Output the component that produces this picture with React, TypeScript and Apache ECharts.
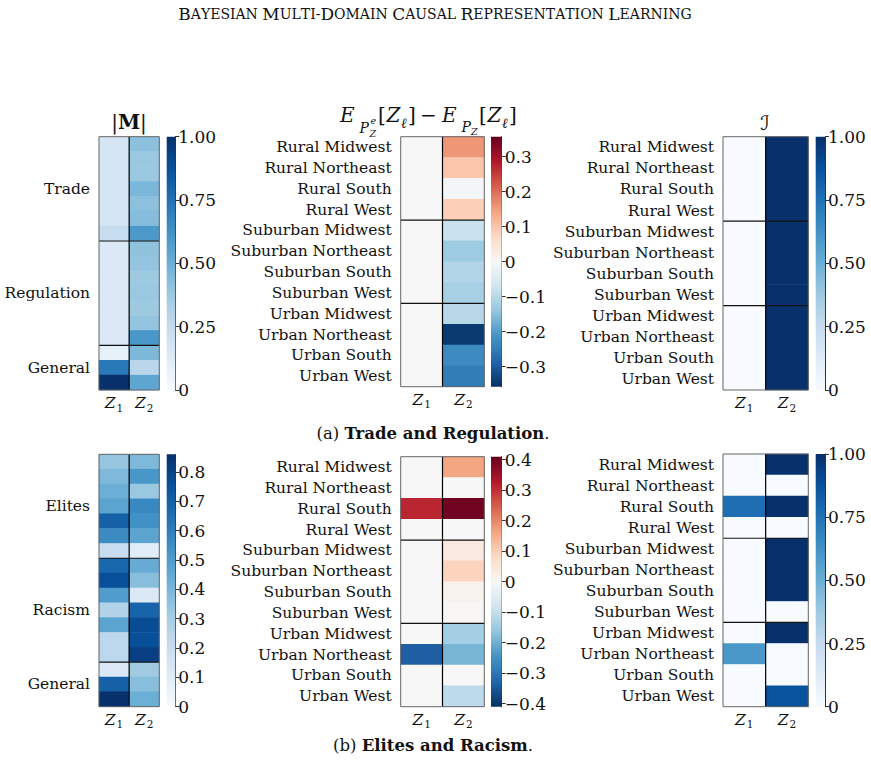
import React, { useEffect, useRef } from 'react';
import * as echarts from 'echarts';

const FONT = 'DejaVu Serif';

// ---------- categories ----------
const zCats = ['Z1', 'Z2'];
const regions = [
  'Rural Midwest', 'Rural Northeast', 'Rural South', 'Rural West',
  'Suburban Midwest', 'Suburban Northeast', 'Suburban South', 'Suburban West',
  'Urban Midwest', 'Urban Northeast', 'Urban South', 'Urban West',
];
const regionBreaks = [4, 8];
const groupsA = ['Trade', 'Regulation', 'General'];
const groupsB = ['Elites', 'Racism', 'General'];
const groupSizes = [7, 7, 3];

// ---------- (a) Trade and Regulation ----------
const mA_Z1 = [0.17, 0.17, 0.17, 0.17, 0.17, 0.17, 0.24, 0.14, 0.14, 0.14, 0.14, 0.14, 0.14, 0.14, 0.08, 0.72, 1.0];
const mA_Z2 = [0.42, 0.385, 0.385, 0.46, 0.42, 0.435, 0.59, 0.41, 0.40, 0.375, 0.385, 0.375, 0.40, 0.60, 0.455, 0.29, 0.54];
const dA_Z1 = [0, 0, 0, 0, 0, 0, 0, 0, 0, 0, 0, 0];
const dA_Z2 = [0.157, 0.10, -0.007, 0.087, -0.079, -0.13, -0.106, -0.118, -0.10, -0.343, -0.228, -0.25];
const iA_Z1 = [0, 0, 0, 0, 0, 0, 0, 0, 0, 0, 0, 0];
const iA_Z2 = [1, 1, 1, 1, 1, 1, 1, 1, 1, 1, 1, 1];

// ---------- (b) Elites and Racism ----------
const mB_Z1 = [0.34, 0.39, 0.43, 0.47, 0.70, 0.56, 0.21, 0.68, 0.76, 0.50, 0.27, 0.47, 0.24, 0.24, 0.12, 0.70, 0.86];
const mB_Z2 = [0.39, 0.52, 0.33, 0.57, 0.54, 0.47, 0.10, 0.44, 0.37, 0.12, 0.69, 0.77, 0.76, 0.81, 0.32, 0.37, 0.43];
const dB_Z1 = [0, 0, 0.313, 0, 0, 0, 0, 0, 0, -0.339, 0, 0];
const dB_Z2 = [0.164, 0, 0.40, 0, 0.04, 0.093, 0.015, 0.003, -0.14, -0.19, 0, -0.109];
const iB_Z1 = [0, 0, 0.76, 0, 0, 0, 0, 0, 0, 0.6, 0, 0];
const iB_Z2 = [1, 0, 1, 0, 1, 1, 1, 0, 1, 0, 0, 0.87];

// ---------- colour bar ticks ----------
const mTicksA = [0, 0.25, 0.5, 0.75, 1.0];
const mTicksB = [0, 0.1, 0.2, 0.3, 0.4, 0.5, 0.6, 0.7, 0.8];
const dTicksA = [-0.3, -0.2, -0.1, 0, 0.1, 0.2, 0.3];
const dTicksB = [-0.4, -0.3, -0.2, -0.1, 0, 0.1, 0.2, 0.3, 0.4];
const iTicks = [0, 0.25, 0.5, 0.75, 1.0];

// ---------- colormaps ----------
const BLUES = ['#f7fbff', '#deebf7', '#c6dbef', '#9ecae1', '#6baed6', '#4292c6', '#2171b5', '#08519c', '#08306b'];
const RDBU_R = ['#053061', '#2166ac', '#4393c3', '#92c5de', '#d1e5f0', '#f7f7f7', '#fddbc7', '#f4a582', '#d6604d', '#b2182b', '#67001f'];

const fmt2 = (v: number) => (Math.abs(v) < 1e-9 ? '0' : v.toFixed(2));
const fmt1 = (v: number) => (Math.abs(v) < 1e-9 ? '0' : v.toFixed(1));
const fmtSigned = (v: number) => (Math.abs(v) < 1e-9 ? '0' : (v < 0 ? '\u2212' : '') + Math.abs(v).toFixed(1));

function groupRows(groups: string[], sizes: number[]) {
  const rows: string[] = [];
  const labels: string[] = [];
  groups.forEach((g, gi) => {
    for (let k = 0; k < sizes[gi]; k++) {
      rows.push(g + '#' + k);
      labels.push(k === Math.floor(sizes[gi] / 2) ? g : '');
    }
  });
  const breaks: number[] = [];
  let acc = 0;
  sizes.slice(0, -1).forEach((s) => { acc += s; breaks.push(acc); });
  return { rows, labels, breaks };
}

type Panel = {
  rows: string[]; labels: string[]; z1: number[]; z2: number[];
  min: number; max: number; colors: string[]; breaks: number[];
  ticks: number[]; fmt: (v: number) => string;
  box: [number, number, number, number]; cb: [number, number];
};

function buildOption() {
  const gA = groupRows(groupsA, groupSizes);
  const gB = groupRows(groupsB, groupSizes);
  const panels: Panel[] = [
    { rows: gA.rows, labels: gA.labels, z1: mA_Z1, z2: mA_Z2, min: 0, max: 1, colors: BLUES, breaks: gA.breaks, ticks: mTicksA, fmt: fmt2, box: [99, 136.7, 60.3, 253.3], cb: [166.7, 8.6] },
    { rows: regions, labels: regions, z1: dA_Z1, z2: dA_Z2, min: -0.357, max: 0.357, colors: RDBU_R, breaks: regionBreaks, ticks: dTicksA, fmt: fmtSigned, box: [400.7, 136.7, 83.6, 250], cb: [491, 10.7] },
    { rows: regions, labels: regions, z1: iA_Z1, z2: iA_Z2, min: 0, max: 1, colors: BLUES, breaks: regionBreaks, ticks: iTicks, fmt: fmt2, box: [723, 136.7, 85.3, 253.3], cb: [815.7, 9.3] },
    { rows: gB.rows, labels: gB.labels, z1: mB_Z1, z2: mB_Z2, min: 0, max: 0.86, colors: BLUES, breaks: gB.breaks, ticks: mTicksB, fmt: fmt1, box: [99, 454.3, 60.3, 252.4], cb: [166.7, 8.6] },
    { rows: regions, labels: regions, z1: dB_Z1, z2: dB_Z2, min: -0.41, max: 0.41, colors: RDBU_R, breaks: regionBreaks, ticks: dTicksB, fmt: fmtSigned, box: [400.7, 456.7, 83.6, 250], cb: [491, 10.7] },
    { rows: regions, labels: regions, z1: iB_Z1, z2: iB_Z2, min: 0, max: 1, colors: BLUES, breaks: regionBreaks, ticks: iTicks, fmt: fmt2, box: [723, 454, 85.3, 252.7], cb: [815.7, 9.3] },
  ];

  const grid: any[] = [];
  const xAxis: any[] = [];
  const yAxis: any[] = [];
  const series: any[] = [];
  const visualMap: any[] = [];

  panels.forEach((p) => {
    const gi = grid.length;
    grid.push({ left: p.box[0], top: p.box[1], width: p.box[2], height: p.box[3], containLabel: false, outerBoundsMode: 'none' });
    xAxis.push({
      type: 'category', gridIndex: gi, data: zCats,
      axisLine: { show: false }, axisTick: { show: false }, splitLine: { show: false },
      axisLabel: {
        interval: 0, hideOverlap: false,
        margin: 3,
        formatter: (v: string) => `{z|Z}{s|${v.slice(1)}}`,
        rich: {
          z: { fontFamily: FONT, fontStyle: 'italic', fontSize: 15.5, color: '#111' },
          s: { fontFamily: FONT, fontSize: 10.5, color: '#111', padding: [9, 0, 0, 1] },
        },
      },
    });
    yAxis.push({
      type: 'category', gridIndex: gi, data: p.rows, inverse: true,
      axisLine: { show: false }, axisTick: { show: false }, splitLine: { show: false },
      axisLabel: { interval: 0, margin: 9, fontFamily: FONT, fontSize: 15.5, color: '#111', formatter: (_v: string, i: number) => p.labels[i] },
    });
    const data: number[][] = [];
    p.rows.forEach((_r, i) => { data.push([0, i, p.z1[i]]); data.push([1, i, p.z2[i]]); });
    const si = series.length;
    series.push({ type: 'heatmap', xAxisIndex: gi, yAxisIndex: gi, data, silent: true, itemStyle: { borderWidth: 0 }, emphasis: { disabled: true }, progressive: 0 });
    visualMap.push({ type: 'continuous', show: false, seriesIndex: si, dimension: 2, min: p.min, max: p.max, inRange: { color: p.colors } });
    // frame + separators
    series.push({
      type: 'custom', xAxisIndex: gi, yAxisIndex: gi, z: 5, silent: true, data: [[0, 0]],
      renderItem: (params: any, api: any) => {
        const cs = params.coordSys;
        const band = api.size([1, 1]);
        const children: any[] = [];
        p.breaks.forEach((b) => {
          const y = api.coord([0, b])[1] - band[1] / 2;
          children.push({ type: 'line', shape: { x1: cs.x, y1: y, x2: cs.x + cs.width, y2: y }, style: { stroke: '#111', lineWidth: 1.2 } });
        });
        const xd = api.coord([1, 0])[0] - band[0] / 2;
        children.push({ type: 'line', shape: { x1: xd, y1: cs.y, x2: xd, y2: cs.y + cs.height }, style: { stroke: '#000', lineWidth: 1.2 } });
        children.push({ type: 'rect', shape: { x: cs.x, y: cs.y, width: cs.width, height: cs.height }, style: { fill: 'none', stroke: '#666', lineWidth: 1 } });
        return { type: 'group', children };
      },
    });
    // colour bar
    const ci = grid.length;
    grid.push({ left: p.cb[0], top: p.box[1], width: p.cb[1], height: p.box[3], containLabel: false, outerBoundsMode: 'none' });
    xAxis.push({ type: 'value', gridIndex: ci, min: 0, max: 1, show: false });
    yAxis.push({
      type: 'value', gridIndex: ci, min: p.min, max: p.max, position: 'right',
      axisLine: { show: true, onZero: false, lineStyle: { color: '#333', width: 1 } },
      axisTick: { show: true, length: 4, customValues: p.ticks, lineStyle: { color: '#333', width: 1 } },
      axisLabel: { customValues: p.ticks, formatter: p.fmt, fontFamily: FONT, fontSize: 17, color: '#111', margin: 3 },
      splitLine: { show: false },
    });
    const stops = p.colors.map((c, i) => ({ offset: i / (p.colors.length - 1), color: c }));
    series.push({
      type: 'custom', xAxisIndex: ci, yAxisIndex: ci, silent: true, data: [[0, p.min]],
      renderItem: (_params: any, api: any) => {
        const a = api.coord([0, p.max]);
        const b = api.coord([1, p.min]);
        return { type: 'rect', shape: { x: a[0], y: a[1], width: b[0] - a[0], height: b[1] - a[1] }, style: { fill: new echarts.graphic.LinearGradient(0, 1, 0, 0, stops) } };
      },
    });
  });

  const t = (text: string, x: number, y: number, size: number, o: any = {}) => ({
    type: 'text', x, y, silent: true,
    style: {
      text, fontFamily: o.family || FONT, fontSize: size, fill: '#111',
      align: o.align || 'left', verticalAlign: 'middle',
      fontStyle: o.italic ? 'italic' : 'normal', fontWeight: o.bold ? 'bold' : 'normal',
      rich: o.rich,
    },
  });

  const smallCaps = (s: string) => {
    let out = '';
    for (const ch of s) {
      if (ch >= 'A' && ch <= 'Z') out += `{c|${ch}}`;
      else out += `{s|${ch.toUpperCase()}}`;
    }
    return out;
  };

  const graphic: any[] = [
    t(smallCaps('Bayesian Multi-Domain Causal Representation Learning'), 435, 14, 17, {
      align: 'center',
      rich: { c: { fontFamily: FONT, fontSize: 17, color: '#111' }, s: { fontFamily: FONT, fontSize: 14, color: '#111' } },
    }),
    // |M|
    t('{n||}{b|M}{n||}', 129, 122, 20, {
      align: 'center',
      rich: { n: { fontFamily: FONT, fontSize: 20, color: '#111' }, b: { fontFamily: FONT, fontSize: 20, fontWeight: 'bold', color: '#111' } },
    }),
    // script I
    t('\u2110', 765, 123, 20, { align: 'center', family: 'DejaVu Sans' }),
    // E_{P_Z^e}[Z_l] - E_{P_Z}[Z_l]
    t('E', 340, 115, 20, { italic: true }),
    t('P', 359.5, 127.5, 14, { italic: true }),
    t('e', 370.5, 120, 9.5, { italic: true }),
    t('Z', 369.5, 133, 9.5, { italic: true }),
    t('[', 378, 115, 20),
    t('Z', 386.5, 115, 20, { italic: true }),
    t('\u2113', 401, 123, 14, { italic: true }),
    t(']', 408, 115, 20),
    t('\u2212', 420, 115, 20),
    t('E', 442, 115, 20, { italic: true }),
    t('P', 461.5, 126.5, 14, { italic: true }),
    t('Z', 471, 131.5, 9.5, { italic: true }),
    t('[', 479, 115, 20),
    t('Z', 487.5, 115, 20, { italic: true }),
    t('\u2113', 502, 123, 14, { italic: true }),
    t(']', 509, 115, 20),
    // captions
    t('{n|(a) }{b|Trade and Regulation}{n|.}', 433, 433, 16.5, {
      align: 'center',
      rich: { n: { fontFamily: FONT, fontSize: 16.5, color: '#111' }, b: { fontFamily: FONT, fontSize: 16.5, fontWeight: 'bold', color: '#111' } },
    }),
    t('{n|(b) }{b|Elites and Racism}{n|.}', 433, 745, 16.5, {
      align: 'center',
      rich: { n: { fontFamily: FONT, fontSize: 16.5, color: '#111' }, b: { fontFamily: FONT, fontSize: 16.5, fontWeight: 'bold', color: '#111' } },
    }),
  ];

  return {
    animation: false,
    backgroundColor: '#ffffff',
    textStyle: { fontFamily: FONT },
    grid, xAxis, yAxis, series, visualMap, graphic,
  };
}

export default function App() {
  const ref = useRef<HTMLDivElement>(null);
  useEffect(() => {
    document.body.style.margin = '0';
    if (!ref.current) return;
    const chart = echarts.init(ref.current, undefined, { renderer: 'svg' });
    chart.setOption(buildOption() as any);
    return () => chart.dispose();
  }, []);
  return <div ref={ref} style={{ width: 871, height: 768 }} />;
}
